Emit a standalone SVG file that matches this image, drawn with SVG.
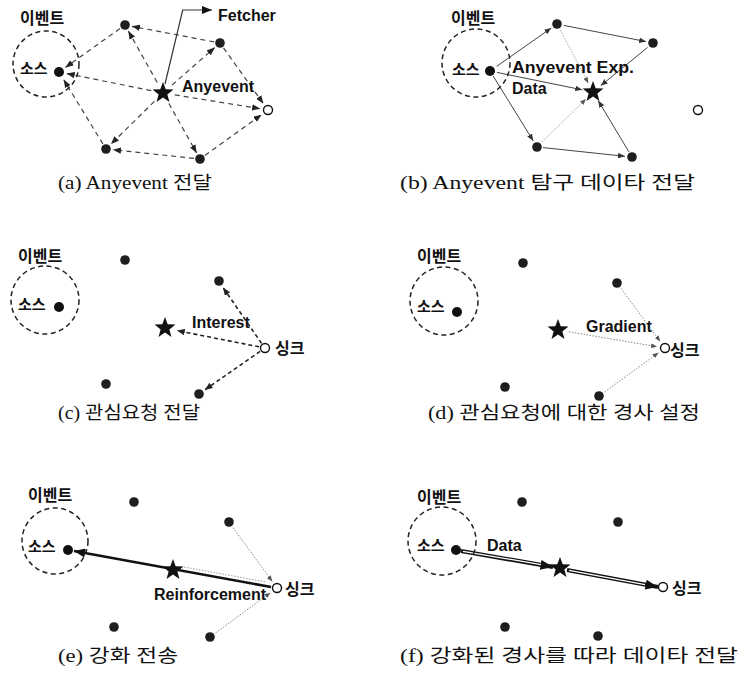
<svg xmlns="http://www.w3.org/2000/svg" xmlns:xlink="http://www.w3.org/1999/xlink" width="744" height="682" viewBox="0 0 744 682">
<style>
.bg{fill:#ffffff}
.lbl{font-family:"Liberation Sans",Arial,sans-serif;font-weight:bold;font-size:16px;fill:#111}
.ko{font-family:"Noto Sans CJK KR",sans-serif;font-weight:bold;font-size:16px;fill:#111}
.ko15{font-family:"Noto Sans CJK KR",sans-serif;font-weight:bold;font-size:15px;fill:#111}
.cap{font-family:"Liberation Serif","Noto Sans CJK KR",serif;font-size:18px;fill:#111}
.region{fill:none;stroke:#222;stroke-width:1.5;stroke-dasharray:5 3.5}
.node{fill:#1e1e1e}
.src{fill:#111}
.sink{fill:#fff;stroke:#111;stroke-width:1.4}
.star{fill:#111}
.dash{fill:none;stroke:#444;stroke-width:1.2;stroke-dasharray:5 4;marker-end:url(#ahd)}
.dashc{fill:none;stroke:#222;stroke-width:1.6;stroke-dasharray:4 3;marker-end:url(#ahd)}
.thin{fill:none;stroke:#444;stroke-width:1;marker-end:url(#aht)}
.faint{fill:none;stroke:#999;stroke-width:0.9;stroke-dasharray:1.5 1.5;marker-end:url(#ahf)}
.dot{fill:none;stroke:#888;stroke-width:1;stroke-dasharray:1.5 1.5;marker-end:url(#ahf)}
.dotn{fill:none;stroke:#999;stroke-width:1;stroke-dasharray:1.5 1.5}
.fetch{fill:none;stroke:#333;stroke-width:1.2;marker-end:url(#ahb)}
.thick{fill:none;stroke:#111;stroke-width:2.6;marker-end:url(#ahk)}
.dbl{fill:none;stroke:#111;stroke-width:4.2;marker-end:url(#ahk2)}
.dblin{fill:none;stroke:#fff;stroke-width:1.2}
</style>
<defs>
<marker id="ahd" viewBox="0 0 10 8" refX="10" refY="4" markerWidth="8" markerHeight="6.4" orient="auto" markerUnits="userSpaceOnUse"><path d="M0,0 L10,4 L0,8 z" fill="#222"/></marker>
<marker id="aht" viewBox="0 0 10 8" refX="10" refY="4" markerWidth="7" markerHeight="5.6" orient="auto" markerUnits="userSpaceOnUse"><path d="M0,0 L10,4 L0,8 z" fill="#333"/></marker>
<marker id="ahf" viewBox="0 0 10 8" refX="10" refY="4" markerWidth="6" markerHeight="4.8" orient="auto" markerUnits="userSpaceOnUse"><path d="M0,0 L10,4 L0,8 z" fill="#555"/></marker>
<marker id="ahb" viewBox="0 0 10 8" refX="10" refY="4" markerWidth="10" markerHeight="8" orient="auto" markerUnits="userSpaceOnUse"><path d="M0,0 L10,4 L0,8 z" fill="#111"/></marker>
<marker id="ahk" viewBox="0 0 10 8" refX="10" refY="4" markerWidth="12" markerHeight="9" orient="auto" markerUnits="userSpaceOnUse"><path d="M0,0 L10,4 L0,8 z" fill="#111"/></marker>
<marker id="ahk2" viewBox="0 0 10 8" refX="10" refY="4" markerWidth="14" markerHeight="10" orient="auto" markerUnits="userSpaceOnUse"><path d="M0,0 L10,4 L0,8 z" fill="#111"/></marker>
<polygon id="starshape" points="0,-11 2.7,-3.72 10.46,-3.4 4.37,1.42 6.47,8.9 0,4.6 -6.47,8.9 -4.37,1.42 -10.46,-3.4 -2.7,-3.72"/>
</defs>
<rect class="bg" x="0" y="0" width="744" height="682"/>

<g id="connectors">
  <!-- (a) -->
  <path class="dash" d="M120,28.5 L65.5,67.4"/>
  <path class="dash" d="M151.2,90.6 L66.8,73.6"/>
  <path class="dash" d="M102.9,143.9 L63.7,79.7"/>
  <path class="dash" d="M157.2,82.5 L128.4,31.1"/>
  <path class="dash" d="M214.1,41.9 L131.9,26.3"/>
  <path class="dash" d="M172,85.1 L214.7,47.6"/>
  <path class="dash" d="M223.5,47.9 L263.3,103.5"/>
  <path class="dash" d="M174.8,94.9 L260.1,108.7"/>
  <path class="dash" d="M204.9,155.5 L261.5,114.7"/>
  <path class="dash" d="M154.4,101.4 L111,144.1"/>
  <path class="dash" d="M168.9,103.5 L196.6,152.9"/>
  <path class="dash" d="M194,158.4 L113,149.7"/>
  <path class="fetch" d="M165,84 L182.7,10 L212,10"/>
  <!-- (b) -->
  <path class="faint" d="M560.3,30.2 L588.3,83.2"/>
  <path class="faint" d="M542,142.1 L585.9,99"/>
  <path class="thin" d="M496.6,66.4 L551.3,28"/>
  <path class="thin" d="M563.9,25.4 L646.1,41.6"/>
  <path class="thin" d="M647.6,47.4 L600.7,85.7"/>
  <path class="thin" d="M496.9,72.4 L582.2,89.8"/>
  <path class="thin" d="M493.2,76.1 L533.3,141"/>
  <path class="thin" d="M543,147.6 L625,156.3"/>
  <path class="thin" d="M628.9,151.9 L598.2,100.6"/>
  <!-- (c) -->
  <path class="dashc" d="M261.6,343.4 L223,287.5"/>
  <path class="dashc" d="M259.1,346.8 L176.8,330.6"/>
  <path class="dashc" d="M260.1,351.4 L204.7,390"/>
  <!-- (d) -->
  <path class="dot" d="M621.2,288.6 L660.2,341.6"/>
  <path class="dot" d="M568.8,331.8 L657.1,346.7"/>
  <path class="dot" d="M604.7,391.9 L658.5,352.7"/>
  <!-- (e) -->
  <path class="dotn" d="M184,567 L266,582"/>
  <path class="dot" d="M233.1,527.7 L272.3,581.5"/>
  <path class="dot" d="M215.6,632.9 L270.5,592.7"/>
  <path class="thick" d="M271,587 L74,551"/>
  <!-- (f) -->
  <path class="dbl" d="M461,551 L553,567"/>
  <path class="dblin" d="M463,551.3 L541,564.6"/>
  <path class="dbl" d="M567,570 L658,587"/>
  <path class="dblin" d="M569,570.4 L645,584.6"/>
</g>

<!-- Panel (a) -->
<g id="a-event">
  <circle class="region" cx="46" cy="64" r="33"/>
  <text class="ko" x="20" y="23.5">이벤트</text>
  <text class="ko15" x="20" y="74">소스</text>
</g>
<g id="a-source"><circle class="src" cx="59" cy="72" r="5"/></g>
<g id="a-n1"><circle class="node" cx="125" cy="25" r="4.8"/></g>
<g id="a-n2"><circle class="node" cx="220" cy="43" r="4.8"/></g>
<g id="a-n3"><circle class="node" cx="106" cy="149" r="4.8"/></g>
<g id="a-n4"><circle class="node" cx="200" cy="159" r="4.8"/></g>
<g id="a-sink"><circle class="sink" cx="268" cy="110" r="4.5"/></g>
<g id="a-star"><use xlink:href="#starshape" href="#starshape" class="star" x="163" y="93"/>
  <text class="lbl" x="182" y="92">Anyevent</text></g>
<g id="a-fetcher"><text class="lbl" x="218" y="21">Fetcher</text></g>

<!-- Panel (b) -->
<g id="b-event">
  <circle class="region" cx="476" cy="63" r="34"/>
  <text class="ko" x="451" y="24">이벤트</text>
  <text class="ko15" x="452" y="74.5">소스</text>
</g>
<g id="b-source"><circle class="src" cx="490" cy="71" r="5"/></g>
<g id="b-n1"><circle class="node" cx="557" cy="24" r="4.8"/></g>
<g id="b-n2"><circle class="node" cx="653" cy="43" r="4.8"/></g>
<g id="b-n3"><circle class="node" cx="537" cy="147" r="4.8"/></g>
<g id="b-n4"><circle class="node" cx="632" cy="157" r="4.8"/></g>
<g id="b-sink"><circle class="sink" cx="698" cy="110" r="4.5"/></g>
<g id="b-star"><use xlink:href="#starshape" href="#starshape" class="star" x="593" y="92"/></g>
<g id="b-labels">
  <text class="lbl" x="512" y="73" textLength="122" lengthAdjust="spacingAndGlyphs">Anyevent Exp.</text>
  <text class="lbl" x="512" y="94">Data</text>
</g>

<!-- Panel (c) -->
<g id="c-event">
  <circle class="region" cx="45" cy="300" r="34"/>
  <text class="ko" x="18" y="262">이벤트</text>
  <text class="ko15" x="18" y="310">소스</text>
</g>
<g id="c-source"><circle class="src" cx="59" cy="307" r="5"/></g>
<g id="c-n1"><circle class="node" cx="125" cy="260" r="4.8"/></g>
<g id="c-n2"><circle class="node" cx="219" cy="281" r="4.8"/></g>
<g id="c-n3"><circle class="node" cx="106" cy="384" r="4.8"/></g>
<g id="c-n4"><circle class="node" cx="199" cy="394" r="4.8"/></g>
<g id="c-sink"><circle class="sink" cx="265" cy="348" r="4.5"/>
  <text class="ko" x="275" y="354">싱크</text></g>
<g id="c-star"><use xlink:href="#starshape" href="#starshape" class="star" x="165" y="328"/></g>
<g id="c-label"><text class="lbl" x="192" y="328">Interest</text></g>

<!-- Panel (d) -->
<g id="d-event">
  <circle class="region" cx="444" cy="301" r="34"/>
  <text class="ko" x="417" y="262">이벤트</text>
  <text class="ko15" x="417" y="311.5">소스</text>
</g>
<g id="d-source"><circle class="src" cx="457" cy="312" r="5"/></g>
<g id="d-n1"><circle class="node" cx="523" cy="263" r="4.8"/></g>
<g id="d-n2"><circle class="node" cx="617" cy="283" r="4.8"/></g>
<g id="d-n3"><circle class="node" cx="505" cy="387" r="4.8"/></g>
<g id="d-n4"><circle class="node" cx="599" cy="396" r="4.8"/></g>
<g id="d-sink"><circle class="sink" cx="665" cy="348" r="4.5"/>
  <text class="ko" x="670" y="356">싱크</text></g>
<g id="d-star"><use xlink:href="#starshape" href="#starshape" class="star" x="558" y="330"/></g>
<g id="d-label"><text class="lbl" x="586" y="332">Gradient</text></g>

<!-- Panel (e) -->
<g id="e-event">
  <circle class="region" cx="55" cy="541" r="33"/>
  <text class="ko" x="28" y="501">이벤트</text>
  <text class="ko15" x="28" y="552">소스</text>
</g>
<g id="e-source"><circle class="src" cx="68" cy="550" r="5"/></g>
<g id="e-n1"><circle class="node" cx="134" cy="502" r="4.8"/></g>
<g id="e-n2"><circle class="node" cx="229" cy="522" r="4.8"/></g>
<g id="e-n3"><circle class="node" cx="114" cy="627" r="4.8"/></g>
<g id="e-n4"><circle class="node" cx="210" cy="637" r="4.8"/></g>
<g id="e-sink"><circle class="sink" cx="277" cy="588" r="4.5"/>
  <text class="ko" x="285" y="595">싱크</text></g>
<g id="e-star"><use xlink:href="#starshape" href="#starshape" class="star" x="173" y="570"/></g>
<g id="e-label"><text class="lbl" x="154" y="600">Reinforcement</text></g>

<!-- Panel (f) -->
<g id="f-event">
  <circle class="region" cx="442" cy="541" r="34"/>
  <text class="ko" x="417" y="503">이벤트</text>
  <text class="ko15" x="417" y="551">소스</text>
</g>
<g id="f-source"><circle class="src" cx="456" cy="550" r="5"/></g>
<g id="f-n1"><circle class="node" cx="522" cy="502" r="4.8"/></g>
<g id="f-n2"><circle class="node" cx="618" cy="522" r="4.8"/></g>
<g id="f-n3"><circle class="node" cx="505" cy="627" r="4.8"/></g>
<g id="f-n4"><circle class="node" cx="598" cy="636" r="4.8"/></g>
<g id="f-sink"><circle class="sink" cx="663" cy="587" r="4.5"/>
  <text class="ko" x="672" y="594">싱크</text></g>
<g id="f-star"><use xlink:href="#starshape" href="#starshape" class="star" x="560" y="568"/></g>
<g id="f-label"><text class="lbl" x="487" y="551">Data</text></g>

<!-- Captions -->
<g id="captions">
  <text class="cap" x="58" y="189" textLength="154" lengthAdjust="spacingAndGlyphs">(a) Anyevent 전달</text>
  <text class="cap" x="400" y="189" textLength="295" lengthAdjust="spacingAndGlyphs">(b) Anyevent 탐구 데이타 전달</text>
  <text class="cap" x="58" y="419" textLength="142" lengthAdjust="spacingAndGlyphs">(c) 관심요청 전달</text>
  <text class="cap" x="428" y="419" textLength="272" lengthAdjust="spacingAndGlyphs">(d) 관심요청에 대한 경사 설정</text>
  <text class="cap" x="58" y="662" textLength="120" lengthAdjust="spacingAndGlyphs">(e) 강화 전송</text>
  <text class="cap" x="400" y="662" textLength="338" lengthAdjust="spacingAndGlyphs">(f) 강화된 경사를 따라 데이타 전달</text>
</g>
</svg>
